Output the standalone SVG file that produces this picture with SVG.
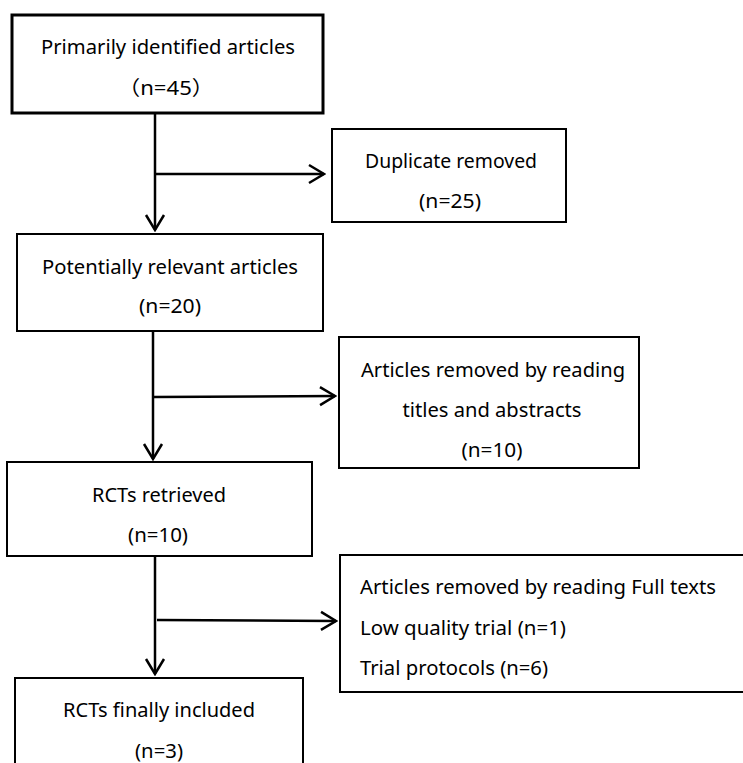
<svg xmlns="http://www.w3.org/2000/svg" width="743" height="763" viewBox="0 0 743 763">
<defs>
<style>
.box{fill:#fff;stroke:#000;stroke-width:2}
.t{font-family:"Noto Sans","Noto Sans CJK SC",sans-serif;font-size:20px;fill:#000}
.c{text-anchor:middle}
.ln{stroke:#000;stroke-width:2.5;fill:none}
</style>
<marker id="ah" viewBox="-18 -12 20 24" refX="0" refY="0" markerWidth="20" markerHeight="24" markerUnits="userSpaceOnUse" orient="auto">
<path d="M-15,-9 L0,0 L-15,9" fill="none" stroke="#000" stroke-width="2.5"/>
</marker>
</defs>
<rect width="743" height="763" fill="#fff"/>
<g id="connectors">
<line class="ln" x1="155" y1="113" x2="155" y2="230" marker-end="url(#ah)"/>
<line class="ln" x1="154" y1="174" x2="324" y2="174" marker-end="url(#ah)"/>
<line class="ln" x1="153" y1="331" x2="153" y2="459" marker-end="url(#ah)"/>
<line class="ln" x1="154" y1="397" x2="335" y2="396" marker-end="url(#ah)"/>
<line class="ln" x1="155" y1="556" x2="155" y2="674" marker-end="url(#ah)"/>
<line class="ln" x1="157" y1="620" x2="336" y2="621" marker-end="url(#ah)"/>
</g>
<g id="n1">
<rect class="box" x="12" y="15" width="311" height="98" style="stroke-width:3"/>
<text class="t c" x="168" y="54" textLength="254" lengthAdjust="spacingAndGlyphs">Primarily identified articles</text>
<text class="t c" x="166" y="95" textLength="96" lengthAdjust="spacingAndGlyphs">（n=45）</text>
</g>
<g id="n2">
<rect class="box" x="332" y="129" width="234" height="93"/>
<text class="t c" x="451" y="168" textLength="172" lengthAdjust="spacingAndGlyphs">Duplicate removed</text>
<text class="t c" x="450" y="208" textLength="62" lengthAdjust="spacingAndGlyphs">(n=25)</text>
</g>
<g id="n3">
<rect class="box" x="17" y="234" width="306" height="97"/>
<text class="t c" x="170" y="274" textLength="256" lengthAdjust="spacingAndGlyphs">Potentially relevant articles</text>
<text class="t c" x="170" y="313" textLength="62" lengthAdjust="spacingAndGlyphs">(n=20)</text>
</g>
<g id="n4">
<rect class="box" x="339" y="337" width="300" height="131"/>
<text class="t c" x="493" y="377" textLength="264" lengthAdjust="spacingAndGlyphs">Articles removed by reading</text>
<text class="t c" x="492" y="417" textLength="179" lengthAdjust="spacingAndGlyphs">titles and abstracts</text>
<text class="t c" x="492" y="457" textLength="61" lengthAdjust="spacingAndGlyphs">(n=10)</text>
</g>
<g id="n5">
<rect class="box" x="7" y="462" width="305" height="94"/>
<text class="t c" x="159" y="502" textLength="134" lengthAdjust="spacingAndGlyphs">RCTs retrieved</text>
<text class="t c" x="158" y="542" textLength="60" lengthAdjust="spacingAndGlyphs">(n=10)</text>
</g>
<g id="n6">
<rect class="box" x="340" y="555" width="410" height="137"/>
<text class="t" x="360" y="594" textLength="356" lengthAdjust="spacingAndGlyphs">Articles removed by reading Full texts</text>
<text class="t" x="360" y="635" textLength="206" lengthAdjust="spacingAndGlyphs">Low quality trial (n=1)</text>
<text class="t" x="360" y="675" textLength="188" lengthAdjust="spacingAndGlyphs">Trial protocols (n=6)</text>
</g>
<g id="n7">
<rect class="box" x="15" y="678" width="288" height="95"/>
<text class="t c" x="159" y="717" textLength="192" lengthAdjust="spacingAndGlyphs">RCTs finally included</text>
<text class="t c" x="159" y="758" textLength="48" lengthAdjust="spacingAndGlyphs">(n=3)</text>
</g>
</svg>
